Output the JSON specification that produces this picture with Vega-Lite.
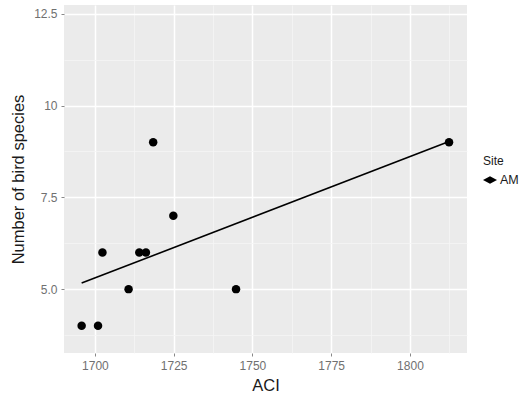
{
  "$schema": "https://vega.github.io/schema/vega-lite/v6.json",
  "width": 403,
  "height": 348,
  "autosize": {"type": "none"},
  "padding": {"left": 64, "top": 5, "right": 60, "bottom": 51},
  "background": "white",
  "config": {
    "view": {"fill": "#EBEBEB", "stroke": null},
    "font": "Liberation Sans",
    "axis": {
      "domain": false,
      "gridColor": "white",
      "labelFont": "Liberation Sans",
      "titleFont": "Liberation Sans",
      "labelFontSize": 12,
      "labelColor": "#707070",
      "titleFontSize": 16.5,
      "titleFontWeight": "normal",
      "titleColor": "#1a1a1a",
      "tickSize": 3
    }
  },
  "data": {
    "values": [
      {"ACI": 1695.8, "Birds": 4, "Site": "AM"},
      {"ACI": 1701.0, "Birds": 4, "Site": "AM"},
      {"ACI": 1702.4, "Birds": 6, "Site": "AM"},
      {"ACI": 1710.7, "Birds": 5, "Site": "AM"},
      {"ACI": 1714.1, "Birds": 6, "Site": "AM"},
      {"ACI": 1716.2, "Birds": 6, "Site": "AM"},
      {"ACI": 1718.5, "Birds": 9, "Site": "AM"},
      {"ACI": 1724.9, "Birds": 7, "Site": "AM"},
      {"ACI": 1744.8, "Birds": 5, "Site": "AM"},
      {"ACI": 1812.4, "Birds": 9, "Site": "AM"}
    ]
  },
  "encoding": {
    "x": {
      "field": "ACI", "type": "quantitative",
      "scale": {"domain": [1690.2, 1818.1], "nice": false, "zero": false},
      "axis": {
        "title": "ACI",
        "values": [1700, 1712.5, 1725, 1737.5, 1750, 1762.5, 1775, 1787.5, 1800, 1812.5],
        "labelExpr": "datum.value % 25 == 0 ? format(datum.value, 'd') : ''",
        "gridWidth": {"condition": {"test": "datum.value % 25 != 0", "value": 0.8}, "value": 1.5},
        "gridColor": {"condition": {"test": "datum.value % 25 != 0", "value": "#F5F5F5"}, "value": "white"},
        "tickColor": {"condition": {"test": "datum.value % 25 != 0", "value": "transparent"}, "value": "#888888"},
        "labelPadding": 4,
        "titlePadding": 6
      }
    },
    "y": {
      "field": "Birds", "type": "quantitative",
      "scale": {"domain": [3.26, 12.74], "nice": false, "zero": false},
      "axis": {
        "title": "Number of bird species",
        "values": [3.75, 5, 6.25, 7.5, 8.75, 10, 11.25, 12.5],
        "labelExpr": "datum.value % 2.5 != 0 ? '' : (datum.value == 10 ? '10' : format(datum.value, '.1f'))",
        "gridWidth": {"condition": {"test": "datum.value % 2.5 != 0", "value": 0.8}, "value": 1.5},
        "gridColor": {"condition": {"test": "datum.value % 2.5 != 0", "value": "#F5F5F5"}, "value": "white"},
        "tickColor": {"condition": {"test": "datum.value % 2.5 != 0", "value": "transparent"}, "value": "#888888"},
        "labelPadding": 4,
        "titlePadding": 7
      }
    }
  },
  "layer": [
    {
      "transform": [{"regression": "Birds", "on": "ACI"}],
      "mark": {"type": "line", "color": "black", "strokeWidth": 1.6},
      "encoding": {}
    },
    {
      "mark": {"type": "point", "filled": true, "shape": "circle", "size": 72, "opacity": 1},
      "encoding": {
        "color": {
          "field": "Site", "type": "nominal",
          "scale": {"range": ["black"]},
          "legend": {
            "title": "Site",
            "orient": "none",
            "legendX": 419,
            "legendY": 151,
            "titleFontSize": 12,
            "titleFontWeight": "normal",
            "titleColor": "#1a1a1a",
            "labelFontSize": 12.5,
            "labelColor": "#1a1a1a",
            "symbolType": "M-1,0L0,-0.55L1,0L0,0.55Z",
            "symbolSize": 196,
            "symbolStrokeWidth": 0,
            "symbolOpacity": 1,
            "labelOffset": 3
          }
        }
      }
    }
  ]
}
